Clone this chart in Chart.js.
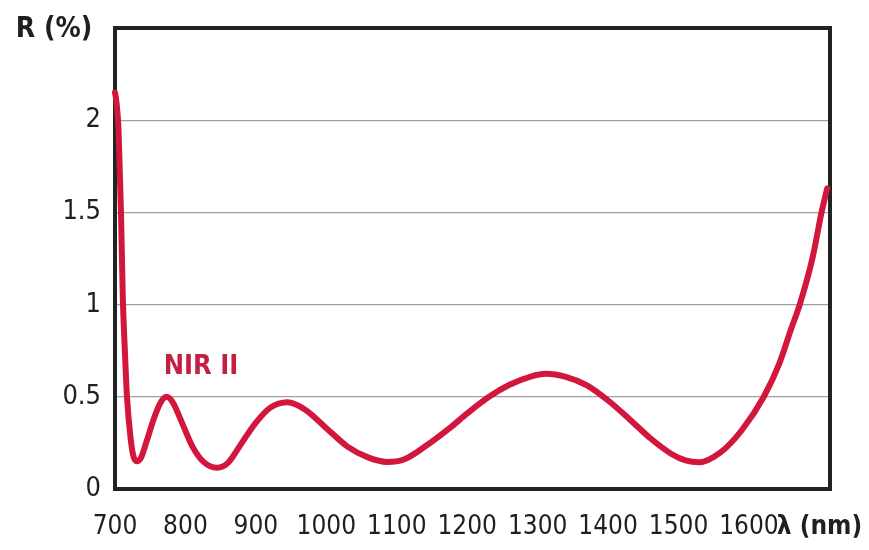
<!DOCTYPE html>
<html>
<head>
<meta charset="utf-8">
<script src="https://cdn.jsdelivr.net/npm/chart.js@4.4.1/dist/chart.umd.min.js"></script>
<style>
  html, body { margin: 0; padding: 0; background: #ffffff; }
  #wrap { width: 869px; height: 550px; position: relative; }
</style>
</head>
<body>
<div id="wrap"><canvas id="c" width="869" height="550"></canvas></div>
<script>
// ---- data ----
const wavelengths = [700, 702, 705, 708.5, 711, 714, 717, 722, 726, 731, 737, 745, 755, 765, 773, 782, 795, 810, 825, 845, 860, 880, 900, 920, 945, 970, 1000, 1030, 1060, 1086, 1110, 1140, 1175, 1200, 1231, 1260, 1290, 1312, 1340, 1370, 1400, 1430, 1460, 1490, 1510, 1529, 1560, 1590, 1621, 1643, 1660, 1672, 1690, 1703, 1711];
const reflectance = [2.15, 2.1, 1.95, 1.5, 1.05, 0.75, 0.5, 0.28, 0.18, 0.15, 0.17, 0.26, 0.38, 0.47, 0.5, 0.47, 0.36, 0.23, 0.15, 0.115, 0.14, 0.25, 0.36, 0.44, 0.47, 0.43, 0.33, 0.23, 0.17, 0.147, 0.16, 0.23, 0.33, 0.41, 0.5, 0.565, 0.61, 0.625, 0.608, 0.562, 0.48, 0.38, 0.275, 0.19, 0.155, 0.145, 0.2, 0.32, 0.5, 0.68, 0.87, 1.0, 1.25, 1.5, 1.63];
const xTicks = [700, 800, 900, 1000, 1100, 1200, 1300, 1400, 1500, 1600, 1700];
const yTicks = [0, 0.5, 1, 1.5, 2, 2.5];
const xUnitLabel = 'λ (nm)';
const yAxisTitle = 'R (%)';
const bandLabel = 'NIR II';
const bandLabelPos = { x: 822, y: 0.66 };

const FONT = '"Liberation Sans Narrow", "DejaVu Sans Condensed", sans-serif';
const RED = '#d2163c';
const INK = '#1f1f1f';

const frameAndText = {
  id: 'frameAndText',
  beforeDatasetsDraw(chart) {
    const { ctx, chartArea: a } = chart;
    ctx.save();
    ctx.strokeStyle = '#222222';
    ctx.lineWidth = 4;
    ctx.strokeRect(a.left, a.top, a.right - a.left, a.bottom - a.top);
    ctx.restore();
  },
  afterDatasetsDraw(chart) {
    const { ctx, scales } = chart;
    ctx.save();
    ctx.fillStyle = INK;
    ctx.font = 'bold 28px ' + FONT;
    ctx.textAlign = 'center';
    ctx.textBaseline = 'middle';
    ctx.fillText(yAxisTitle, 54, 30);
    ctx.fillStyle = '#c41f43';
    ctx.font = 'bold 27px ' + FONT;
    ctx.fillText(bandLabel, scales.x.getPixelForValue(bandLabelPos.x), scales.y.getPixelForValue(bandLabelPos.y));
    ctx.restore();
  }
};

new Chart(document.getElementById('c'), {
  type: 'line',
  data: {
    datasets: [{
      data: wavelengths.map((w, i) => ({ x: w, y: reflectance[i] })),
      borderColor: RED,
      borderWidth: 6,
      pointRadius: 0,
      cubicInterpolationMode: 'monotone',
      borderCapStyle: 'round',
      borderJoinStyle: 'round',
      fill: false,
      clip: 6
    }]
  },
  options: {
    responsive: false,
    animation: false,
    devicePixelRatio: 1,
    layout: { padding: { top: 28, right: 39, left: 0, bottom: 0 } },
    plugins: { legend: { display: false }, tooltip: { enabled: false } },
    scales: {
      x: {
        type: 'linear',
        min: 700,
        max: 1715,
        afterBuildTicks(scale) { scale.ticks = xTicks.map(v => ({ value: v })); },
        afterFit(scale) { scale.height = 61; scale.paddingLeft = 0; scale.paddingRight = 0; },
        grid: { display: false, drawTicks: false },
        border: { display: false },
        ticks: {
          padding: 23,
          color: INK,
          maxRotation: 0,
          autoSkip: false,
          font: (ctx) => ctx.tick && ctx.tick.value === 1700
            ? { family: FONT, size: 26, weight: 'bold' }
            : { family: FONT, size: 26 },
          callback: (v) => v === 1700 ? xUnitLabel : String(v)
        }
      },
      y: {
        type: 'linear',
        min: 0,
        max: 2.5,
        afterBuildTicks(scale) { scale.ticks = yTicks.map(v => ({ value: v })); },
        afterFit(scale) { scale.width = 115; scale.paddingTop = 0; scale.paddingBottom = 0; },
        grid: {
          drawTicks: false,
          color: (ctx) => (ctx.tick && (ctx.tick.value === 0 || ctx.tick.value === 2.5)) ? 'rgba(0,0,0,0)' : '#a0a0a0',
          lineWidth: 1.2
        },
        border: { display: false },
        ticks: {
          padding: 14,
          color: INK,
          font: { family: FONT, size: 27 },
          callback: (v) => v === 2.5 ? '' : String(v)
        }
      }
    }
  },
  plugins: [frameAndText]
});
</script>
</body>
</html>
